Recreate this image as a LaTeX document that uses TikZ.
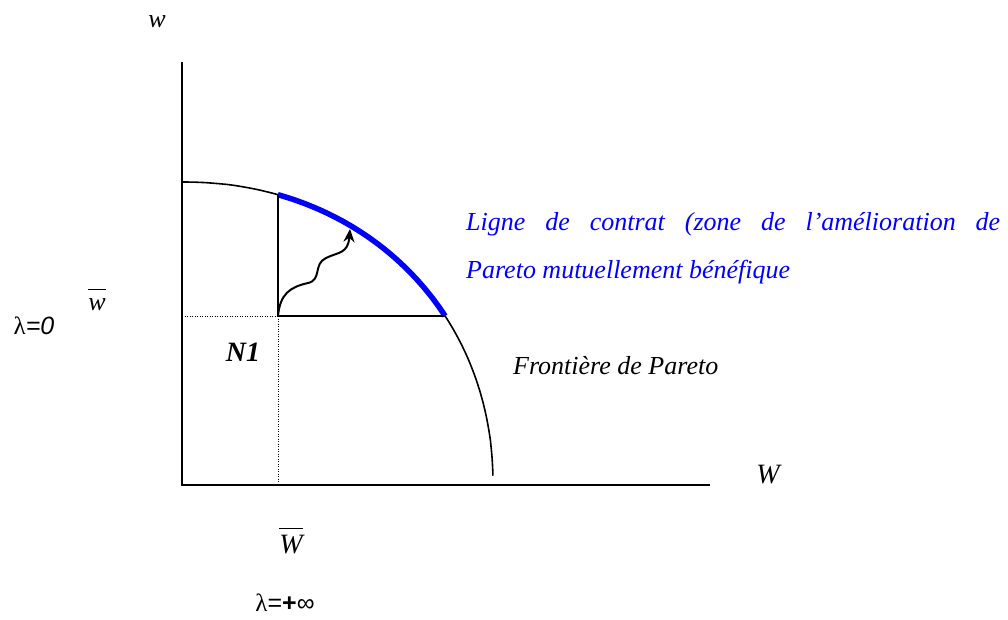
\documentclass[tikz,border=0pt]{standalone}
\usepackage{fontspec}
\setmainfont{Liberation Serif}
\newfontfamily\lsans{Liberation Sans}
\usetikzlibrary{arrows.meta}
\begin{document}
\begin{tikzpicture}[x=1pt,y=-1pt,
  axis/.style={line width=1.8pt},
  thinln/.style={line width=1.6pt},
  dotln/.style={line width=1pt, dash pattern=on 1pt off 1.5pt},
  barln/.style={line width=1.2pt},
  lbl/.style={inner sep=0pt, font=\fontsize{26}{30}\selectfont\itshape},
  lam/.style={inner sep=0pt, font=\fontsize{25}{28}\selectfont}
]
\useasboundingbox (0,0) rectangle (1008,619);
\coordinate (O) at (182,485);
\coordinate (ytop) at (182,62);
\coordinate (xend) at (710,485);
\coordinate (yw) at (182,316);
\coordinate (xw) at (278,485);
\coordinate (n1) at (278,316);
\coordinate (ptop) at (278,195);
\coordinate (pright) at (445,316);
\coordinate (tip) at (350,229);
% axes
\draw[axis] (ytop) -- (O) -- (xend);
% frontier
\draw[thinln] plot[domain=1.5:89.9, samples=120, variable=\t]
  ({182+311*pow(cos(\t),0.957)}, {485-303*pow(sin(\t),0.957)});
\draw[line width=5.5pt, blue] plot[domain=32.9:73.0, samples=60, variable=\t]
  ({182+311*pow(cos(\t),0.957)}, {485-303*pow(sin(\t),0.957)});
% rectangle lines
\draw[axis] (ptop) -- (n1) -- (pright);
\draw[dotln] (yw) -- (n1);
\draw[dotln] (n1) -- (xw);
% wavy arrow
\draw[line width=2pt, -{Stealth[length=13pt,width=11pt]}] (n1) .. controls (280,294) and (290,287) .. (308,283)
  .. controls (322,280) and (313,264) .. (326,258)
  .. controls (338,252) and (348,254) .. (tip);
% labels
\node[lbl] (lw) at (157,22) {w};
\node[lbl, font=\fontsize{28}{30}\selectfont\itshape] (lW) at (768,475) {W};
\node[lbl, font=\fontsize{28}{30}\selectfont\bfseries\itshape] (lN1) at (243,352) {N1};
\node[lbl] (lwbar) at (97,305) {w};
\draw[barln] ([yshift=9pt]lwbar.north west) -- ([yshift=9pt]lwbar.north east);
\node[lbl, font=\fontsize{28}{30}\selectfont\itshape] (lWbar) at (291,545) {W};
\draw[barln] ([yshift=7pt]lWbar.north west) -- ([yshift=7pt]lWbar.north east);
\node[lam] (l0) at (34,326) {λ{\lsans\itshape =0}};
\node[lam] (linf) at (285,603) {λ{\lsans =\textbf{+}∞}};
\node[lbl, anchor=west] (front) at (513,366) {Frontière de Pareto};
\node[lbl, anchor=north west, text=blue, text width=534pt, align=justify,
  font=\fontsize{26}{48}\selectfont\itshape] (contrat) at (466,212)
  {Ligne de contrat (zone de l’amélioration de\linebreak Pareto mutuellement bénéfique};
\end{tikzpicture}
\end{document}
